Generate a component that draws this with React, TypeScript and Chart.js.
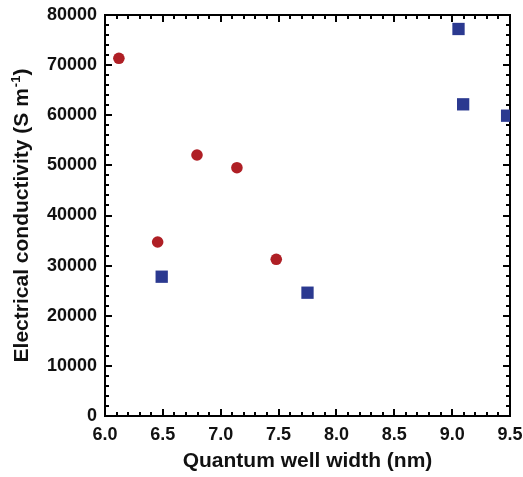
import React, { useEffect, useRef } from "react";
import { Chart, registerables } from "chart.js";

Chart.register(...registerables);

// Data
const circleX = [6.12, 6.455, 6.795, 7.14, 7.48];
const circleY = [71360, 34710, 52070, 49540, 31260];
const squareX = [6.49, 7.75, 9.055, 9.095, 9.475];
const squareY = [27790, 24600, 77210, 62180, 59910];

const X_MIN = 6.0;
const X_MAX = 9.5;
const X_MAJOR = 0.5;
const X_MINOR_PER_MAJOR = 5;
const Y_MIN = 0;
const Y_MAX = 80000;
const Y_MAJOR = 10000;
const Y_MINOR_PER_MAJOR = 5;

const X_TITLE = "Quantum well width (nm)";
const Y_TITLE_MAIN = "Electrical conductivity (S m";
const Y_TITLE_SUP = "-1";
const Y_TITLE_END = ")";

const RED = "#AF1F25";
const BLUE = "#2B3990";
const FONT = "'Liberation Sans', Arial, Helvetica, sans-serif";

const framePlugin = {
  id: "frame",
  beforeDatasetsDraw(chart: any) {
    const { ctx, chartArea, scales } = chart;
    const { left, right, top, bottom } = chartArea;
    const x = scales.x;
    const y = scales.y;
    ctx.save();
    ctx.strokeStyle = "#000";
    ctx.lineWidth = 2;
    ctx.lineCap = "butt";
    ctx.strokeRect(left, top, right - left, bottom - top);
    const major = 7;
    const minor = 4;
    ctx.lineWidth = 2;
    ctx.beginPath();
    const nx = Math.round(((X_MAX - X_MIN) / X_MAJOR) * X_MINOR_PER_MAJOR);
    for (let i = 0; i <= nx; i++) {
      const v = X_MIN + (i * X_MAJOR) / X_MINOR_PER_MAJOR;
      const px = Math.round(x.getPixelForValue(v));
      const len = i % X_MINOR_PER_MAJOR === 0 ? major : minor;
      ctx.moveTo(px, bottom);
      ctx.lineTo(px, bottom - len);
      ctx.moveTo(px, top);
      ctx.lineTo(px, top + len);
    }
    const ny = Math.round(((Y_MAX - Y_MIN) / Y_MAJOR) * Y_MINOR_PER_MAJOR);
    for (let i = 0; i <= ny; i++) {
      const v = Y_MIN + (i * Y_MAJOR) / Y_MINOR_PER_MAJOR;
      const py = Math.round(y.getPixelForValue(v));
      const len = i % Y_MINOR_PER_MAJOR === 0 ? major : minor;
      ctx.moveTo(left, py);
      ctx.lineTo(left + len, py);
      ctx.moveTo(right, py);
      ctx.lineTo(right - len, py);
    }
    ctx.stroke();
    ctx.restore();
  },
  afterDraw(chart: any) {
    const { ctx, chartArea } = chart;
    const { left, right, top, bottom } = chartArea;
    ctx.save();
    ctx.fillStyle = "#111";
    // x title
    ctx.font = `bold 21px ${FONT}`;
    ctx.textAlign = "center";
    ctx.textBaseline = "alphabetic";
    ctx.fillText(X_TITLE, (left + right) / 2, 467);
    // y title with superscript
    const mainFont = `bold 21px ${FONT}`;
    const supFont = `bold 13px ${FONT}`;
    ctx.font = mainFont;
    const w1 = ctx.measureText(Y_TITLE_MAIN).width;
    const w3 = ctx.measureText(Y_TITLE_END).width;
    ctx.font = supFont;
    const w2 = ctx.measureText(Y_TITLE_SUP).width;
    const total = w1 + w2 + w3 + 1;
    ctx.translate(28, (top + bottom) / 2);
    ctx.rotate(-Math.PI / 2);
    ctx.textAlign = "left";
    let cx = -total / 2;
    ctx.font = mainFont;
    ctx.fillText(Y_TITLE_MAIN, cx, 0);
    cx += w1 + 1;
    ctx.font = supFont;
    ctx.fillText(Y_TITLE_SUP, cx, -8);
    cx += w2;
    ctx.font = mainFont;
    ctx.fillText(Y_TITLE_END, cx, 0);
    ctx.restore();
  },
};

export default function App() {
  const canvasRef = useRef<HTMLCanvasElement | null>(null);

  useEffect(() => {
    const canvas = canvasRef.current;
    if (!canvas) return;
    const chart = new Chart(canvas, {
      type: "scatter",
      data: {
        datasets: [
          {
            label: "circles",
            data: circleX.map((v, i) => ({ x: v, y: circleY[i] })),
            backgroundColor: RED,
            borderWidth: 0,
            pointStyle: "circle",
            pointRadius: 5.8,
          },
          {
            label: "squares",
            data: squareX.map((v, i) => ({ x: v, y: squareY[i] })),
            backgroundColor: BLUE,
            borderWidth: 0,
            pointStyle: "rect",
            pointRadius: 8.7,
          },
        ],
      },
      options: {
        animation: false,
        responsive: false,
        layout: { padding: { left: 0, top: 15, right: 13, bottom: 0 } },
        plugins: {
          legend: { display: false },
          tooltip: { enabled: false },
        },
        scales: {
          x: {
            type: "linear",
            min: X_MIN,
            max: X_MAX,
            grid: { display: false, drawTicks: false },
            border: { display: false },
            ticks: {
              stepSize: X_MAJOR,
              padding: 8,
              color: "#111",
              font: { family: FONT, size: 18, weight: "bold" },
              callback: (v: any) => Number(v).toFixed(1),
            },
            afterFit: (s: any) => {
              s.height = 61;
              s.paddingLeft = 0;
              s.paddingRight = 0;
              s.paddingTop = 0;
              s.paddingBottom = 0;
            },
          },
          y: {
            type: "linear",
            min: Y_MIN,
            max: Y_MAX,
            grid: { display: false, drawTicks: false },
            border: { display: false },
            ticks: {
              stepSize: Y_MAJOR,
              padding: 8,
              color: "#111",
              font: { family: FONT, size: 18, weight: "bold" },
              callback: (v: any) => String(v),
            },
            afterFit: (s: any) => {
              s.width = 105;
              s.paddingLeft = 0;
              s.paddingRight = 0;
              s.paddingTop = 0;
              s.paddingBottom = 0;
            },
          },
        },
      },
      plugins: [framePlugin],
    });
    return () => chart.destroy();
  }, []);

  return (
    <div style={{ position: "absolute", left: 0, top: 0, width: 523, height: 477, background: "#fff" }}>
      <canvas ref={canvasRef} width={523} height={477} style={{ display: "block" }} />
    </div>
  );
}
